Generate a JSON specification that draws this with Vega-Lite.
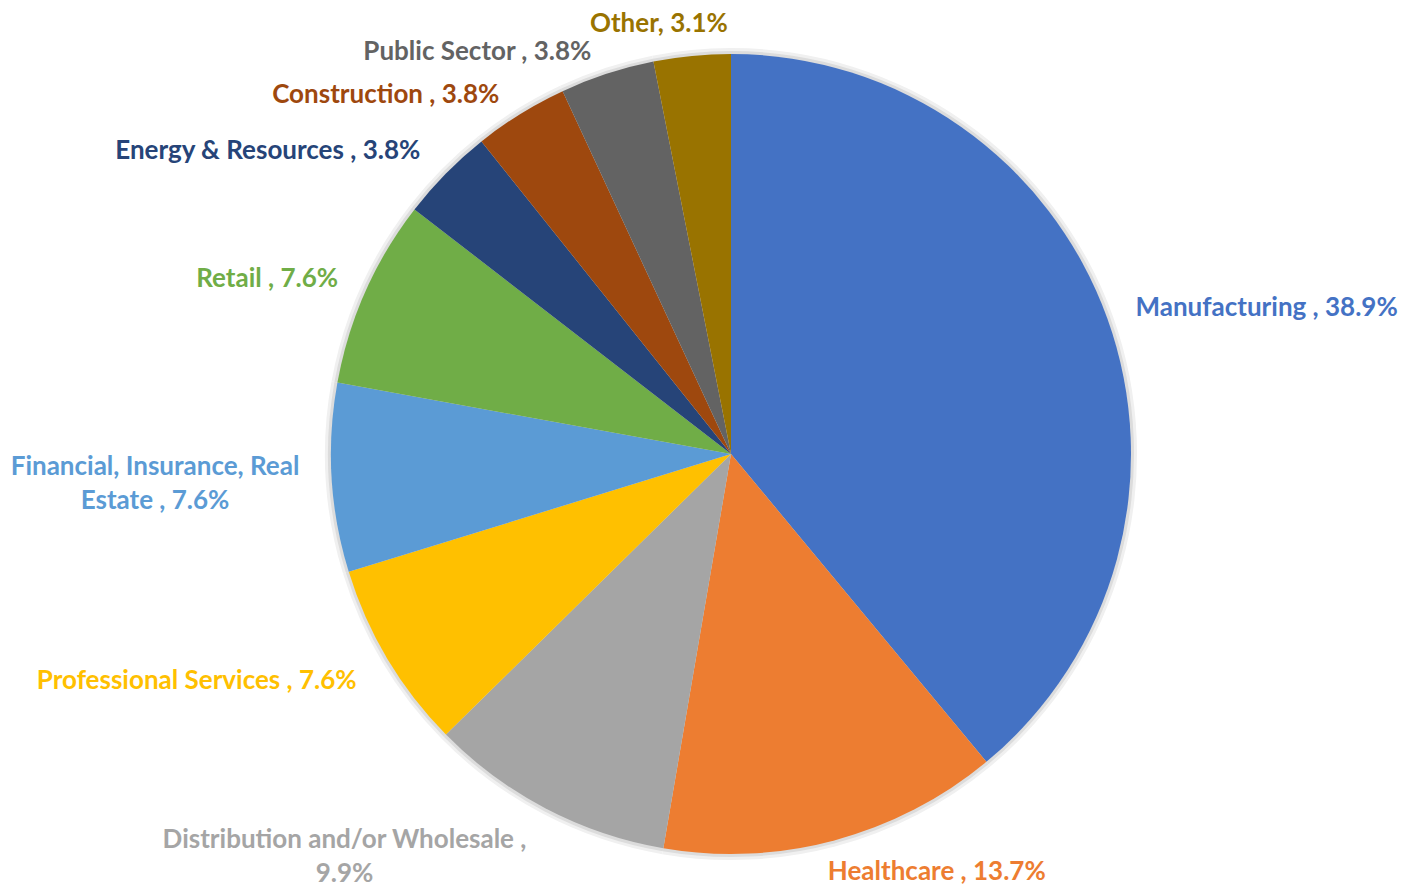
{
  "$schema": "https://vega.github.io/schema/vega-lite/v6.json",
  "width": 1346,
  "height": 870,
  "autosize": {"type": "none"},
  "padding": {"left": 58, "top": 19, "right": 0, "bottom": 0},
  "background": "white",
  "config": {"view": {"stroke": null}, "text": {"font": "Lato", "fontWeight": "bold", "fontSize": 26}},
  "data": {
    "values": [
      {"rank": 1, "sector": "Manufacturing", "share": 38.9, "label": "Manufacturing , 38.9%"},
      {"rank": 2, "sector": "Healthcare", "share": 13.7, "label": "Healthcare , 13.7%"},
      {"rank": 3, "sector": "Distribution and/or Wholesale", "share": 9.9, "label": "Distribution and/or Wholesale ,\n9.9%"},
      {"rank": 4, "sector": "Professional Services", "share": 7.6, "label": "Professional Services , 7.6%"},
      {"rank": 5, "sector": "Financial, Insurance, Real Estate", "share": 7.6, "label": "Financial, Insurance, Real\nEstate , 7.6%"},
      {"rank": 6, "sector": "Retail", "share": 7.6, "label": "Retail , 7.6%"},
      {"rank": 7, "sector": "Energy & Resources", "share": 3.8, "label": "Energy & Resources , 3.8%"},
      {"rank": 8, "sector": "Construction", "share": 3.8, "label": "Construction , 3.8%"},
      {"rank": 9, "sector": "Public Sector", "share": 3.8, "label": "Public Sector , 3.8%"},
      {"rank": 10, "sector": "Other", "share": 3.1, "label": "Other, 3.1%"}
    ]
  },
  "encoding": {
    "theta": {"field": "share", "type": "quantitative", "stack": true},
    "order": {"field": "rank", "type": "quantitative"},
    "color": {
      "field": "sector",
      "type": "nominal",
      "legend": null,
      "scale": {
        "domain": ["Manufacturing", "Healthcare", "Distribution and/or Wholesale", "Professional Services", "Financial, Insurance, Real Estate", "Retail", "Energy & Resources", "Construction", "Public Sector", "Other"],
        "range": ["#4472C4", "#ED7D31", "#A5A5A5", "#FFC000", "#5B9BD5", "#70AD47", "#264478", "#9E480E", "#636363", "#997300"]
      }
    }
  },
  "layer": [
    {"mark": {"type": "arc", "radius": 406}, "encoding": {"color": {"value": "#f0f0f0"}}},
    {"mark": {"type": "arc", "radius": 403}, "encoding": {"color": {"value": "#dcdcdc"}}},
    {"mark": {"type": "arc", "radius": 400}},
    {
      "mark": {"type": "text", "radius": 430, "align": "left", "baseline": "middle"},
      "encoding": {"text": {"condition": {"test": "datum.rank == 1", "field": "label"}, "value": ""}}
    },
    {
      "mark": {"type": "text", "radius": 433, "align": "left", "baseline": "middle", "dx": -15},
      "encoding": {"text": {"condition": {"test": "datum.rank == 2", "field": "label"}, "value": ""}}
    },
    {
      "mark": {"type": "text", "radius": 436, "align": "right", "baseline": "middle", "dy": 3},
      "encoding": {"text": {"condition": {"test": "datum.rank == 4 || datum.rank == 7", "field": "label"}, "value": ""}}
    },
    {
      "mark": {"type": "text", "radius": 430, "align": "right", "baseline": "middle"},
      "encoding": {"text": {"condition": {"test": "datum.rank == 6", "field": "label"}, "value": ""}}
    },
    {
      "mark": {"type": "text", "radius": 425, "align": "right", "baseline": "middle", "dx": -8, "dy": 2},
      "encoding": {"text": {"condition": {"test": "datum.rank == 8 || datum.rank == 9", "field": "label"}, "value": ""}}
    },
    {
      "mark": {"type": "text", "radius": 432, "align": "center", "baseline": "middle", "dx": -30},
      "encoding": {"text": {"condition": {"test": "datum.rank == 10", "field": "label"}, "value": ""}}
    },
    {
      "mark": {"type": "text", "radius": 577, "align": "center", "baseline": "middle", "lineBreak": "\n", "lineHeight": 34, "dy": -21},
      "encoding": {"text": {"condition": {"test": "datum.rank == 5", "field": "label"}, "value": ""}}
    },
    {
      "mark": {"type": "text", "radius": 435, "align": "center", "baseline": "middle", "lineBreak": "\n", "lineHeight": 34, "dx": -185},
      "encoding": {"text": {"condition": {"test": "datum.rank == 3", "field": "label"}, "value": ""}}
    }
  ]
}
